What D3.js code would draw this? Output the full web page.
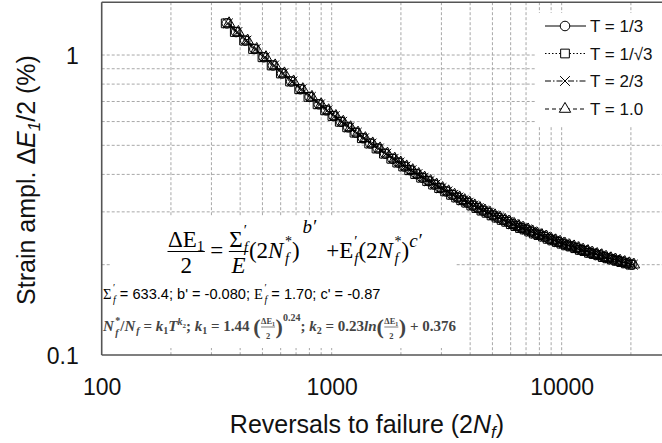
<!DOCTYPE html>
<html>
<head>
<meta charset="utf-8">
<script src="https://cdn.jsdelivr.net/npm/d3@7"></script>
<style>
  body { margin: 0; background: #fff; }
  svg { display: block; }
  text { font-family: "Liberation Sans", Arial, sans-serif; white-space: pre; }
</style>
</head>
<body>
<svg class="chart" width="662" height="443"></svg>
<script>
// strain amplitude levels (%), shared by the four series
const strainAmp = [1.275,1.193,1.117,1.047,0.983,0.923,0.868,0.816,0.769,0.725,0.685,0.654,0.626,0.599,0.574,0.551,0.528,0.507,0.488,0.469,
  0.451,0.438,0.425,0.413,0.401,0.390,0.380,0.370,0.360,0.351,0.342,0.335,0.328,0.322,0.315,0.309,0.303,0.298,0.292,0.287,
  0.282,0.278,0.273,0.269,0.265,0.262,0.258,0.254,0.251,0.248,0.244,0.241,0.238,0.235,0.232,0.230,0.227,0.224,0.222,0.219,
  0.217,0.215,0.212,0.210,0.208,0.206,0.204,0.202,0.200];

// reversals to failure (2Nf) for each triaxiality T
const revT13 = [350,384,421,461,506,555,608,667,731,802,879,947,1019,1097,1181,1271,1368,1473,1585,1707,
  1837,1950,2070,2198,2334,2478,2631,2793,2966,3149,3343,3517,3700,3892,4094,4307,4531,4766,5013,5274,
  5548,5808,6082,6368,6669,6983,7312,7656,8017,8395,8790,9205,9640,10094,10570,11068,11589,12135,12707,13306,
  13933,14590,15278,15998,16752,17541,18368,19234,20141];
const revT1r3 = [346,379,416,455,500,548,601,659,722,792,868,936,1007,1084,1167,1256,1352,1455,1566,1687,
  1815,1927,2045,2172,2306,2448,2599,2759,2930,3111,3303,3475,3656,3845,4045,4255,4477,4709,4953,5211,
  5481,5738,6009,6292,6589,6899,7224,7564,7921,8294,8685,9095,9524,9973,10443,10935,11450,11989,12555,13146,
  13766,14415,15095,15806,16551,17331,18148,19003,19899];
const revT23 = [354,389,426,467,512,562,615,675,740,812,890,958,1031,1110,1195,1286,1384,1491,1604,1727,
  1859,1973,2095,2224,2362,2508,2663,2827,3002,3187,3383,3559,3744,3939,4143,4359,4585,4823,5073,5337,
  5615,5878,6155,6444,6749,7067,7400,7748,8113,8496,8895,9315,9756,10215,10697,11201,11728,12281,12860,13466,
  14100,14765,15461,16190,16953,17751,18589,19465,20383];
const revT10 = [358,393,431,472,518,568,623,683,749,821,900,970,1043,1123,1209,1302,1401,1508,1623,1748,
  1881,1997,2120,2251,2390,2537,2694,2860,3037,3225,3423,3601,3789,3985,4192,4410,4640,4880,5133,5401,
  5681,5947,6228,6521,6829,7151,7487,7840,8209,8596,9001,9426,9871,10336,10824,11334,11867,12426,13012,13625,
  14267,14940,15645,16382,17154,17962,18809,19696,20624];

const seriesLabels = ["T = 1/3", "T = 1/\u221A3", "T = 2/3", "T = 1.0"];
const xTickValues = [100, 1000, 10000];
const yTickValues = [0.1, 1];

const plot = { left: 101.7, top: 2.2, bottom: 355, right: 680 };
const sans = '"Liberation Sans", Arial, sans-serif';
const serif = '"Liberation Serif", "Times New Roman", serif';
const PR = "\u2032";

const svg = d3.select(".chart");

const x = d3.scaleLog().domain([100, 32700]).range([plot.left, plot.right]);
const y = d3.scaleLog().domain([0.1, 1.5]).range([plot.bottom, plot.top]);

svg.append("defs").append("clipPath").attr("id", "plotclip")
  .append("rect").attr("x", plot.left).attr("y", plot.top)
  .attr("width", plot.right - plot.left).attr("height", plot.bottom - plot.top);

const grid = svg.append("g").attr("clip-path", "url(#plotclip)")
  .attr("stroke", "#a8a8a8").attr("stroke-width", 1).attr("stroke-dasharray", "3,2");

// dashed grid on every log step
grid.selectAll(".vgrid")
  .data(x.ticks().filter(d => d > 100))
  .enter().append("line")
  .attr("x1", d => x(d)).attr("x2", d => x(d))
  .attr("y1", plot.top).attr("y2", plot.bottom);

grid.selectAll(".hgrid")
  .data(y.ticks().filter(d => d > 0.1))
  .enter().append("line")
  .attr("x1", plot.left).attr("x2", plot.right)
  .attr("y1", d => y(d)).attr("y2", d => y(d));

// white boxes behind equation and legend hide the grid
svg.append("rect").attr("x", 110).attr("y", 217).attr("width", 345).attr("height", 131).attr("fill", "#fff");
svg.append("rect").attr("x", 535).attr("y", 13).attr("width", 140).attr("height", 113).attr("fill", "#fff");

// series
const series = [
  { label: seriesLabels[0], rev: revT13, sym: d3.symbolCircle, size: 72, dash: null },
  { label: seriesLabels[1], rev: revT1r3, sym: d3.symbolSquare, size: 76, dash: "1.5,2" },
  { label: seriesLabels[2], rev: revT23, sym: d3.symbolTimes, size: 64, dash: "6,2,1.5,2" },
  { label: seriesLabels[3], rev: revT10, sym: d3.symbolTriangle, size: 56, dash: "4,3" }
];

const line = d3.line().x(d => x(d[0])).y(d => y(d[1]));
const curves = svg.append("g").attr("clip-path", "url(#plotclip)");

series.forEach(s => {
  const pts = s.rev.map((n, i) => [n, strainAmp[i]]);
  curves.append("path")
    .datum(pts)
    .attr("fill", "none")
    .attr("stroke", "#000")
    .attr("stroke-width", 1)
    .attr("stroke-dasharray", s.dash)
    .attr("d", line);
  curves.selectAll(null)
    .data(pts)
    .enter().append("path")
    .attr("transform", d => `translate(${x(d[0])},${y(d[1])})`)
    .attr("d", d3.symbol(s.sym, s.size))
    .attr("fill", "none")
    .attr("stroke", "#000")
    .attr("stroke-width", 1);
});

// frame
const frame = svg.append("g").attr("stroke", "#555").attr("stroke-width", 1.6);
frame.append("line").attr("x1", plot.left).attr("x2", plot.left).attr("y1", plot.top).attr("y2", plot.bottom);
frame.append("line").attr("x1", plot.left).attr("x2", plot.right).attr("y1", plot.top).attr("y2", plot.top);
frame.append("line").attr("x1", plot.left).attr("x2", plot.right).attr("y1", plot.bottom).attr("y2", plot.bottom);

// tick labels
svg.append("g")
  .attr("transform", `translate(0,${plot.bottom})`)
  .call(d3.axisBottom(x).tickValues(xTickValues).tickFormat(d3.format("d")).tickSize(0))
  .call(g => g.select(".domain").remove())
  .selectAll("text")
  .attr("y", 40).attr("dy", 0)
  .style("font-family", sans)
  .style("font-size", "23px").attr("fill", "#111");

svg.append("g")
  .attr("transform", `translate(${plot.left},0)`)
  .call(d3.axisLeft(y).tickValues(yTickValues).tickFormat(d => d === 1 ? "1" : "0.1").tickSize(0).tickPadding(23))
  .call(g => g.select(".domain").remove())
  .selectAll("text")
  .attr("dy", "0.36em")
  .style("font-family", sans)
  .style("font-size", "23px").attr("fill", "#111");

// axis titles
const xt = svg.append("text")
  .attr("x", 367).attr("y", 433)
  .attr("text-anchor", "middle")
  .style("font-size", "25px").attr("fill", "#111");
xt.append("tspan").text("Reversals to failure (2");
xt.append("tspan").style("font-style", "italic").text("N");
xt.append("tspan").style("font-style", "italic").style("font-size", "17px").attr("dy", 5).text("f");
xt.append("tspan").attr("dy", -5).text(")");

const yt = svg.append("text")
  .attr("transform", "translate(35,180) rotate(-90)")
  .attr("text-anchor", "middle")
  .style("font-size", "25px").attr("fill", "#111");
yt.append("tspan").text("Strain ampl. \u0394");
yt.append("tspan").style("font-style", "italic").text("E");
yt.append("tspan").style("font-style", "italic").style("font-size", "17px").attr("dy", 5).text("1");
yt.append("tspan").attr("dy", -5).text("/2 (%)");

// rich text layout: every equation line is one <text> of placed tspans
function layout(txt, g, parts, size, fam, x0, y0) {
  let cx = 0;
  const nodes = [];
  parts.forEach(p => {
    cx += p.pre || 0;
    if (p.frac) {
      const fs = p.fsz || size;
      const n = layout(txt, g, p.frac[0], fs, fam, x0 + cx, y0 - p.up);
      const d = layout(txt, g, p.frac[1], fs, fam, x0 + cx, y0 + p.down);
      const w = Math.max(n.w, d.w) + 2 * (p.pad || 2);
      n.nodes.forEach(nd => nd.setAttribute("x", +nd.getAttribute("x") + (w - n.w) / 2));
      d.nodes.forEach(nd => nd.setAttribute("x", +nd.getAttribute("x") + (w - d.w) / 2));
      nodes.push(...n.nodes, ...d.nodes);
      g.append("line").attr("x1", x0 + cx + 0.5).attr("x2", x0 + cx + w - 0.5)
        .attr("y1", y0 - p.bar).attr("y2", y0 - p.bar)
        .attr("stroke", "currentColor").attr("stroke-width", p.bw || 1);
      cx += w + (p.gap || 0);
      return;
    }
    const items = p.stk || [p];
    let w = 0;
    items.forEach(q => {
      const ts = txt.append("tspan")
        .attr("x", x0 + cx).attr("y", y0 + (q.dy || 0))
        .style("font-family", q.ff || p.ff || fam)
        .style("font-size", (q.sz || size) + "px")
        .style("font-style", q.it ? "italic" : "normal")
        .text(q.t);
      nodes.push(ts.node());
      w = Math.max(w, ts.node().getComputedTextLength());
    });
    cx += w + (p.gap || 0);
  });
  return { w: cx, nodes };
}

function richLine(parts, size, fam, x0, y0, color, weight) {
  const g = svg.append("g").attr("fill", color).style("color", color);
  const txt = g.append("text").style("font-weight", weight || "normal");
  layout(txt, g, parts, size, fam, x0, y0);
}

const Nstar = [{ t: "(2" }, { t: "N", it: true }, { stk: [{ t: "*", sz: 14, dy: -12 }, { t: "f", sz: 15, dy: 5, it: true }], pre: 1.5 }, { t: ")" }];
const eqMain = [
  { frac: [[{ t: "\u0394E" }, { t: "1", sz: 15, dy: 4 }], [{ t: "2" }]], up: 11, down: 15, bar: 6.5, pad: 1 },
  { t: "=", pre: 5, gap: 5 },
  { frac: [[{ t: "\u03A3" }, { stk: [{ t: PR, sz: 15, dy: -12 }, { t: "f", sz: 15, dy: 5, it: true }], pre: 1 }], [{ t: "E", it: true }]], up: 11, down: 15, bar: 6.5, pad: 1 },
  ...Nstar,
  { t: "b" + PR, it: true, sz: 19, dy: -25, pre: 3 },
  { t: "+E", pre: 10 }, { stk: [{ t: PR, sz: 15, dy: -12 }, { t: "f", sz: 15, dy: 5, it: true }], pre: 1 },
  ...Nstar,
  { t: "c" + PR, it: true, sz: 19, dy: -11 }
];
richLine(eqMain, 23, serif, 167, 258, "#000");

const eqConst = [
  { t: "\u03A3", ff: serif }, { stk: [{ t: PR, sz: 10, dy: -8 }, { t: "f", sz: 10, dy: 4, it: true }], ff: serif, pre: 1.5 },
  { t: " = 633.4; b' = -0.080; " },
  { t: "E", ff: serif }, { stk: [{ t: PR, sz: 10, dy: -8 }, { t: "f", sz: 10, dy: 4, it: true }], ff: serif, pre: 1.5 },
  { t: " = 1.70; c' = -0.87" }
];
richLine(eqConst, 14.6, sans, 103, 299, "#000");

const smallFrac = { frac: [[{ t: "\u0394E" }, { t: "1", sz: 6, dy: 2 }], [{ t: "2" }]], fsz: 8.5, up: 7, down: 7.5, bar: 4, bw: 0.7, pad: 0.5 };
const eqK = [
  { t: "N", it: true }, { stk: [{ t: "*", sz: 10, dy: -7 }, { t: "f", sz: 10, dy: 4.5, it: true }], pre: 1.5 }, { t: "/" },
  { t: "N", it: true }, { t: "f", it: true, sz: 10, dy: 3, pre: 1 },
  { t: " = " }, { t: "k", it: true }, { t: "1", sz: 10, dy: 3 }, { t: "T", it: true },
  { t: "k", it: true, sz: 10, dy: -6 }, { t: "2", sz: 7, dy: -3 },
  { t: "; " }, { t: "k", it: true }, { t: "1", sz: 10, dy: 3 }, { t: " = 1.44 " },
  { t: "(", sz: 22, dy: 3 }, smallFrac, { t: ")", sz: 22, dy: 3 }, { t: "0.24", sz: 10, dy: -10 },
  { t: "; " }, { t: "k", it: true }, { t: "2", sz: 10, dy: 3 }, { t: " = 0.23" }, { t: "ln", it: true },
  { t: "(", sz: 22, dy: 3 }, smallFrac, { t: ")", sz: 22, dy: 3 }, { t: " + 0.376" }
];
richLine(eqK, 15, serif, 103, 331, "#444", "bold");

// legend
const legend = svg.append("g").attr("transform", "translate(545,0)");
const rowY = [26, 53.5, 81, 109];
series.forEach((s, i) => {
  const row = legend.append("g").attr("transform", `translate(0,${rowY[i]})`);
  row.append("line").attr("x1", 0).attr("x2", 41).attr("y1", 0).attr("y2", 0)
    .attr("stroke", "#000").attr("stroke-width", 1).attr("stroke-dasharray", s.dash);
  row.append("path").attr("transform", "translate(20,0)")
    .attr("d", d3.symbol(s.sym, s.size)).attr("fill", "#fff").attr("stroke", "#000");
  row.append("text").attr("x", 45).attr("y", 6)
    .style("font-size", "17px").attr("fill", "#111").text(s.label);
});
</script>
</body>
</html>
